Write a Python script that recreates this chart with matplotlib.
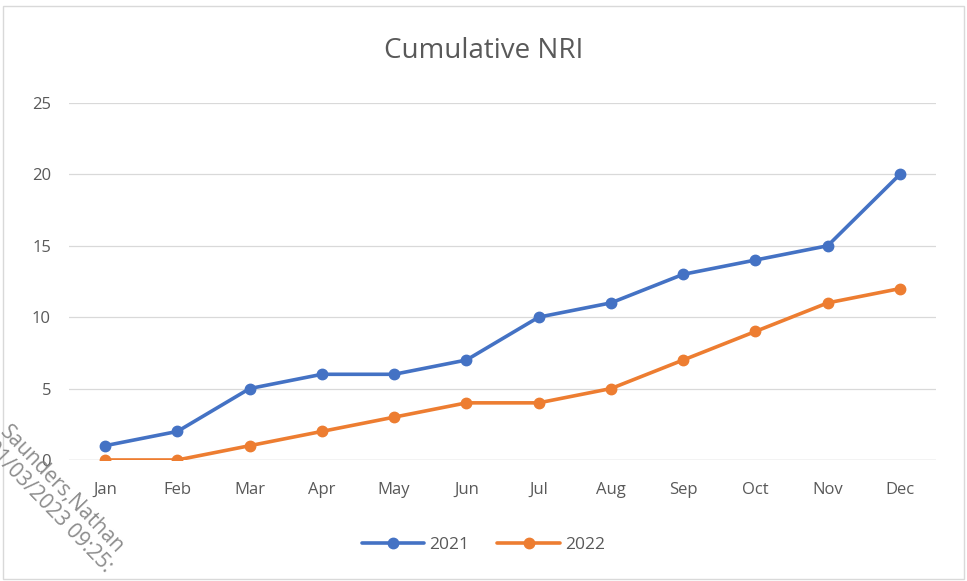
import matplotlib
matplotlib.use("Agg")
import matplotlib.pyplot as plt
from matplotlib.patches import Rectangle

months = ["Jan", "Feb", "Mar", "Apr", "May", "Jun",
          "Jul", "Aug", "Sep", "Oct", "Nov", "Dec"]
nri_2021 = [1, 2, 5, 6, 6, 7, 10, 11, 13, 14, 15, 20]
nri_2022 = [0, 0, 1, 2, 3, 4, 4, 5, 7, 9, 11, 12]
y_ticks = [0, 5, 10, 15, 20, 25]

BLUE = "#4472C4"
ORANGE = "#ED7D31"
TEXT = "#595959"
GRID = "#D9D9D9"

plt.rcParams["font.family"] = ["Open Sans", "DejaVu Sans"]

fig = plt.figure(figsize=(9.67, 5.81), dpi=100, facecolor="white")
ax = fig.add_axes([0.0714, 0.2083, 0.8966, 0.6145])

x = list(range(len(months)))
ax.plot(x, nri_2021, color=BLUE, linewidth=2.6, marker="o", markersize=7.5,
        label="2021", solid_capstyle="round", zorder=3)
ax.plot(x, nri_2022, color=ORANGE, linewidth=2.6, marker="o", markersize=7.5,
        label="2022", solid_capstyle="round", zorder=3)

ax.set_xlim(-0.5, len(months) - 0.5)
ax.set_ylim(0, 25)
ax.set_xticks(x)
ax.set_xticklabels(months)
ax.set_yticks(y_ticks)
ax.tick_params(axis="both", length=0, labelsize=12, colors=TEXT)
ax.tick_params(axis="x", pad=16)
ax.tick_params(axis="y", pad=13)
ax.grid(axis="y", color=GRID, linewidth=0.9)
ax.axhline(0, color=GRID, linewidth=1.0, zorder=1)
ax.set_axisbelow(True)
for s in ax.spines.values():
    s.set_visible(False)

fig.text(0.5, 0.912, "Cumulative NRI", ha="center", va="center",
         fontsize=20, color=TEXT)

fig.legend(loc="center", bbox_to_anchor=(0.5, 0.062), ncol=2, frameon=False,
           fontsize=12.5, labelcolor=TEXT, handlelength=3.6, columnspacing=1.6,
           handletextpad=0.3)

# chart frame
fig.add_artist(Rectangle((0.003, 0.003), 0.994, 0.987, transform=fig.transFigure,
                         fill=False, edgecolor=GRID, linewidth=1.0))

# watermark
fig.text(0.011, 1 - 422 / 581, "Saunders,Nathan\n01/03/2023 09:25:",
         rotation=-46, rotation_mode="anchor", ha="left", va="top",
         fontsize=15, color="#7F7F7F", alpha=0.9, linespacing=1.0, zorder=5)

fig.savefig("out.png", dpi=100, facecolor="white")
